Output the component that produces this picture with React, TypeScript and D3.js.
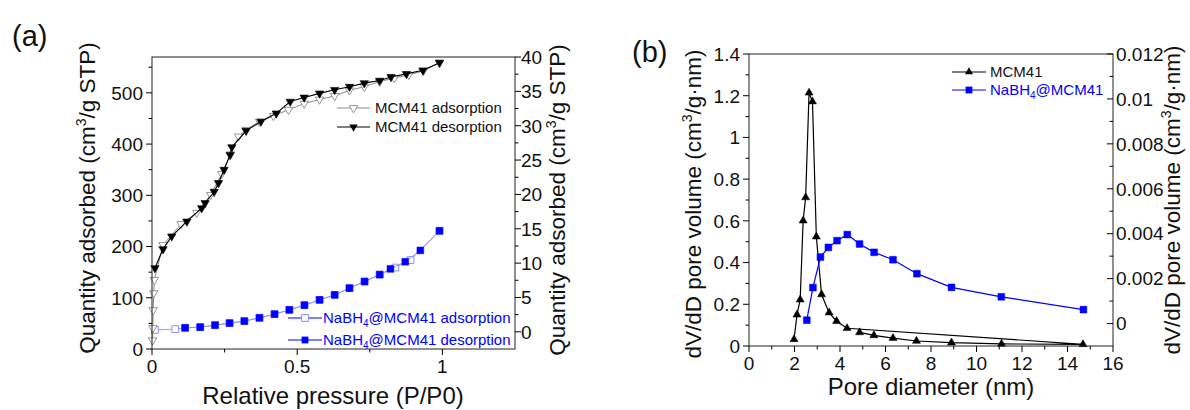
import React from "react";
import * as d3 from "d3";

// ---- (a) N2 sorption isotherms ----
// MCM41, left axis (cm3/g STP)
const mcmAdsP = [0.002, 0.003, 0.004, 0.006, 0.008, 0.038, 0.1, 0.154, 0.202, 0.24, 0.27, 0.298, 0.324, 0.37, 0.418, 0.47, 0.524, 0.577, 0.629, 0.68, 0.731, 0.784, 0.834, 0.884, 0.935, 0.99];
const mcmAdsQ = [17, 41, 76, 109, 135, 203, 244, 266, 301, 342, 380, 415, 428, 444, 455, 467, 479, 487, 494, 505, 512, 522, 529, 535, 543, 559];
const mcmDesP = [0.01, 0.038, 0.068, 0.12, 0.171, 0.183, 0.214, 0.229, 0.248, 0.269, 0.275, 0.324, 0.375, 0.428, 0.476, 0.524, 0.577, 0.629, 0.68, 0.731, 0.784, 0.823, 0.876, 0.933, 0.99];
const mcmDesQ = [158, 195, 220, 249, 275, 285, 307, 324, 350, 379, 394, 426, 444, 460, 483, 491, 499, 506, 512, 519, 524, 531, 537, 544, 559];

// NaBH4@MCM41, right axis (cm3/g STP)
const nbAdsP = [0.01, 0.08, 0.114, 0.166, 0.217, 0.267, 0.318, 0.37, 0.422, 0.473, 0.525, 0.577, 0.629, 0.68, 0.732, 0.784, 0.838, 0.89, 0.99];
const nbAdsQ = [0.29, 0.39, 0.58, 0.68, 0.97, 1.27, 1.56, 2.04, 2.57, 3.2, 3.88, 4.65, 5.38, 6.36, 7.32, 8.33, 9.35, 10.45, 14.7];
const nbDesP = [0.114, 0.166, 0.217, 0.267, 0.318, 0.37, 0.422, 0.473, 0.525, 0.577, 0.629, 0.68, 0.732, 0.784, 0.821, 0.872, 0.924, 0.99];
const nbDesQ = [0.58, 0.68, 0.97, 1.27, 1.56, 2.04, 2.57, 3.2, 3.88, 4.65, 5.38, 6.36, 7.32, 8.33, 9.16, 10.2, 11.85, 14.7];

// ---- (b) BJH pore size distribution ----
// MCM41, left axis; points in export order (the 4.31 nm point is followed by the largest pore)
const mcmPoreD = [1.98, 2.11, 2.25, 2.38, 2.49, 2.64, 2.79, 2.96, 3.19, 3.52, 3.85, 4.31, 14.68, 11.1, 8.9, 7.36, 6.33, 5.49, 4.86];
const mcmPoreV = [0.032, 0.15, 0.222, 0.601, 0.712, 1.214, 1.172, 0.524, 0.247, 0.16, 0.119, 0.085, 0.008, 0.01, 0.016, 0.024, 0.038, 0.051, 0.065];
// NaBH4@MCM41, right axis
const nbPoreD = [2.54, 2.81, 3.14, 3.49, 3.87, 4.32, 4.86, 5.5, 6.33, 7.38, 8.9, 11.09, 14.7];
const nbPoreV = [0.00015, 0.0016, 0.00296, 0.00339, 0.00369, 0.00396, 0.00354, 0.00317, 0.00284, 0.00222, 0.00161, 0.00119, 0.00062];

// ---- tick values ----
const aXMajor = [0, 0.5, 1];
const aXMinor = [0.25, 0.75];
const aYMajor = [0, 100, 200, 300, 400, 500];
const aYMinor = [50, 150, 250, 350, 450, 550];
const aY2Major = [0, 5, 10, 15, 20, 25, 30, 35, 40];
const aY2Minor = [2.5, 7.5, 12.5, 17.5, 22.5, 27.5, 32.5, 37.5];
const bXMajor = [0, 2, 4, 6, 8, 10, 12, 14, 16];
const bXMinor = [1, 3, 5, 7, 9, 11, 13, 15];
const bYMajor = [0, 0.2, 0.4, 0.6, 0.8, 1, 1.2, 1.4];
const bYMinor = [0.1, 0.3, 0.5, 0.7, 0.9, 1.1, 1.3];
const bY2Major = [0, 0.002, 0.004, 0.006, 0.008, 0.01, 0.012];
const bY2Minor = [0.001, 0.003, 0.005, 0.007, 0.009, 0.011];

const FONT = "'Liberation Sans', Arial, Helvetica, sans-serif";
const TICK_FS = 19;
const MAJ = 6;
const MIN = 3.5;

const fmt = (v: number) => String(+v.toFixed(4));

const zip = (xs: number[], ys: number[]) => xs.map((x, i) => [x, ys[i]] as [number, number]);

const triPath = d3.symbol().type(d3.symbolTriangle).size(30)() as string;
const triPathB = d3.symbol().type(d3.symbolTriangle).size(28)() as string;
const sqPath = d3.symbol().type(d3.symbolSquare).size(46)() as string;
const sqPathB = d3.symbol().type(d3.symbolSquare).size(46)() as string;

type Scale = d3.ScaleLinear<number, number>;

function BottomAxis({ x, y0, major, minor }: { x: Scale; y0: number; major: number[]; minor: number[] }) {
  return (
    <g>
      {major.map((v) => (
        <g key={"M" + v}>
          <line x1={x(v)} x2={x(v)} y1={y0} y2={y0 + MAJ} stroke="#000" strokeWidth={1} />
          <text x={x(v)} y={y0 + 24} textAnchor="middle" fontSize={TICK_FS} fontFamily={FONT} fill="#111">
            {fmt(v)}
          </text>
        </g>
      ))}
      {minor.map((v) => (
        <line key={"m" + v} x1={x(v)} x2={x(v)} y1={y0} y2={y0 + MIN} stroke="#000" strokeWidth={1} />
      ))}
    </g>
  );
}

function SideAxis({
  y, x0, major, minor, dir, labelSide, labelX,
}: { y: Scale; x0: number; major: number[]; minor: number[]; dir: number; labelSide: "left" | "right"; labelX: number }) {
  return (
    <g>
      {major.map((v) => (
        <g key={"M" + v}>
          <line x1={x0} x2={x0 + dir * MAJ} y1={y(v)} y2={y(v)} stroke="#000" strokeWidth={1} />
          <text
            x={labelX}
            y={y(v) + 6.8}
            textAnchor={labelSide === "left" ? "end" : "start"}
            fontSize={TICK_FS}
            fontFamily={FONT}
            fill="#111"
          >
            {fmt(v)}
          </text>
        </g>
      ))}
      {minor.map((v) => (
        <line key={"m" + v} x1={x0} x2={x0 + dir * MIN} y1={y(v)} y2={y(v)} stroke="#000" strokeWidth={1} />
      ))}
    </g>
  );
}

function Markers({ pts, path, fill, stroke, rotate = 0, sw = 1 }: {
  pts: [number, number][]; path: string; fill: string; stroke: string; rotate?: number; sw?: number;
}) {
  return (
    <g>
      {pts.map(([px, py], i) => (
        <path key={i} d={path} transform={`translate(${px},${py}) rotate(${rotate})`} fill={fill} stroke={stroke} strokeWidth={sw} />
      ))}
    </g>
  );
}

function QuantityLabel({ x, y }: { x: number; y: number }) {
  return (
    <text transform={`translate(${x},${y}) rotate(-90)`} textAnchor="middle" fontSize={22.5} fontFamily={FONT} fill="#111">
      Quantity adsorbed (cm<tspan fontSize={14} dy={-9}>3</tspan><tspan dy={9}>/g STP)</tspan>
    </text>
  );
}

function PoreLabel({ x, y }: { x: number; y: number }) {
  return (
    <text transform={`translate(${x},${y}) rotate(-90)`} textAnchor="middle" fontSize={22.5} fontFamily={FONT} fill="#111">
      dV/dD pore volume (cm<tspan fontSize={14} dy={-9}>3</tspan><tspan dy={9}>/g·nm)</tspan>
    </text>
  );
}

export default function App() {
  // panel (a) frame
  const aL = 152, aR = 515, aT = 57, aB = 349;
  const xA = d3.scaleLinear().domain([0, 1.25]).range([aL, aR]);
  const yA = d3.scaleLinear().domain([0, 570]).range([aB, aT]);
  const yA2 = d3.scaleLinear().domain([-2.5, 40]).range([aB, aT]);

  // panel (b) frame
  const bL = 749, bR = 1113, bT = 54, bB = 346;
  const xB = d3.scaleLinear().domain([0, 16]).range([bL, bR]);
  const yB = d3.scaleLinear().domain([0, 1.4]).range([bB, bT]);
  const yB2 = d3.scaleLinear().domain([-0.001, 0.012]).range([bB, bT]);

  const lineA = d3.line<[number, number]>().x((d) => xA(d[0])).y((d) => yA(d[1]));
  const lineA2 = d3.line<[number, number]>().x((d) => xA(d[0])).y((d) => yA2(d[1]));
  const lineB = d3.line<[number, number]>().x((d) => xB(d[0])).y((d) => yB(d[1]));
  const lineB2 = d3.line<[number, number]>().x((d) => xB(d[0])).y((d) => yB2(d[1]));

  const mcmAds = zip(mcmAdsP, mcmAdsQ);
  const mcmDes = zip(mcmDesP, mcmDesQ);
  const nbAds = zip(nbAdsP, nbAdsQ);
  const nbDes = zip(nbDesP, nbDesQ);
  const mcmPore = zip(mcmPoreD, mcmPoreV);
  const nbPore = zip(nbPoreD, nbPoreV);

  const px = (s: Scale, sy: Scale, pts: [number, number][]) => pts.map(([a, b]) => [s(a), sy(b)] as [number, number]);

  const blue = "#0000ff";
  const lightBlue = "#8c8cff";

  return (
    <div style={{ position: "absolute", left: 0, top: 0 }}>
      <svg width={1190} height={410} viewBox="0 0 1190 410" style={{ display: "block", background: "#fff" }}>
        <rect width={1190} height={410} fill="#fff" />

        {/* ================= (a) ================= */}
        <text x={12} y={46} fontSize={29} fontFamily={FONT} fill="#111">(a)</text>

        {/* NaBH4@MCM41 isotherms (right axis) */}
        <path d={lineA2(nbAds) as string} fill="none" stroke={lightBlue} strokeWidth={0.9} />
        <Markers pts={px(xA, yA2, nbAds)} path={sqPath} fill="#fff" stroke={lightBlue} sw={1} />
        <path d={lineA2(nbDes) as string} fill="none" stroke={lightBlue} strokeWidth={0.9} />
        <Markers pts={px(xA, yA2, nbDes)} path={sqPath} fill={blue} stroke={blue} sw={0.5} />

        {/* MCM41 isotherms (left axis) */}
        <path d={lineA(mcmAds) as string} fill="none" stroke="#8a8a8a" strokeWidth={1} />
        <Markers pts={px(xA, yA, mcmAds)} path={triPath} fill="#fff" stroke="#8a8a8a" rotate={180} sw={0.9} />
        <path d={lineA(mcmDes) as string} fill="none" stroke="#000" strokeWidth={1.1} />
        <Markers pts={px(xA, yA, mcmDes)} path={triPath} fill="#000" stroke="#000" rotate={180} sw={0.6} />

        {/* frame */}
        <rect x={aL} y={aT} width={aR - aL} height={aB - aT} fill="none" stroke="#222" strokeWidth={1} />
        <BottomAxis x={xA} y0={aB} major={aXMajor} minor={aXMinor} />
        <SideAxis y={yA} x0={aL} major={aYMajor} minor={aYMinor} dir={-1} labelSide="left" labelX={143} />
        <SideAxis y={yA2} x0={aR} major={aY2Major} minor={aY2Minor} dir={1} labelSide="right" labelX={521} />

        <QuantityLabel x={95} y={198} />
        <QuantityLabel x={565} y={200} />
        <text x={333} y={404} textAnchor="middle" fontSize={24} fontFamily={FONT} fill="#111">
          Relative pressure (P/P0)
        </text>

        {/* legend: MCM41 */}
        <g fontFamily={FONT} fontSize={15} fill="#111">
          <line x1={337} x2={370} y1={108} y2={108} stroke="#8a8a8a" strokeWidth={1} />
          <path d={triPath} transform="translate(353.5,108) rotate(180)" fill="#fff" stroke="#8a8a8a" strokeWidth={0.9} />
          <text x={375} y={113}>MCM41 adsorption</text>
          <line x1={337} x2={370} y1={127} y2={127} stroke="#000" strokeWidth={1.1} />
          <path d={triPath} transform="translate(353.5,127) rotate(180)" fill="#000" />
          <text x={375} y={132}>MCM41 desorption</text>
        </g>

        {/* legend: NaBH4@MCM41 */}
        <g fontFamily={FONT} fontSize={15} fill={blue}>
          <line x1={288} x2={322} y1={318} y2={318} stroke={blue} strokeWidth={1} />
          <path d={sqPath} transform="translate(305,318)" fill="#fff" stroke={lightBlue} strokeWidth={1} />
          <text x={323} y={323}>
            NaBH<tspan fontSize={10} dy={4}>4</tspan><tspan dy={-4}>@MCM41 adsorption</tspan>
          </text>
          <line x1={288} x2={322} y1={340} y2={340} stroke={blue} strokeWidth={1} />
          <path d={sqPath} transform="translate(305,340)" fill={blue} />
          <text x={323} y={345}>
            NaBH<tspan fontSize={10} dy={4}>4</tspan><tspan dy={-4}>@MCM41 desorption</tspan>
          </text>
        </g>

        {/* ================= (b) ================= */}
        <text x={632} y={62} fontSize={29} fontFamily={FONT} fill="#111">(b)</text>

        <path d={lineB(mcmPore) as string} fill="none" stroke="#000" strokeWidth={1.2} />
        <Markers pts={px(xB, yB, mcmPore)} path={triPathB} fill="#000" stroke="#000" sw={0.5} />
        <path d={lineB2(nbPore) as string} fill="none" stroke={blue} strokeWidth={1.2} />
        <Markers pts={px(xB, yB2, nbPore)} path={sqPathB} fill={blue} stroke={blue} sw={0.5} />

        <rect x={bL} y={bT} width={bR - bL} height={bB - bT} fill="none" stroke="#222" strokeWidth={1} />
        <BottomAxis x={xB} y0={bB} major={bXMajor} minor={bXMinor} />
        <SideAxis y={yB} x0={bL} major={bYMajor} minor={bYMinor} dir={-1} labelSide="left" labelX={740} />
        <SideAxis y={yB2} x0={bR} major={bY2Major} minor={bY2Minor} dir={-1} labelSide="right" labelX={1116} />

        <PoreLabel x={701} y={204} />
        <PoreLabel x={1180} y={200} />
        <text x={931} y={395} textAnchor="middle" fontSize={24} fontFamily={FONT} fill="#111">
          Pore diameter (nm)
        </text>

        {/* legend */}
        <g fontFamily={FONT} fontSize={15}>
          <line x1={952} x2={986} y1={72} y2={72} stroke="#000" strokeWidth={1.2} />
          <path d={triPathB} transform="translate(969,72)" fill="#000" />
          <text x={990} y={77} fill="#111">MCM41</text>
          <line x1={952} x2={986} y1={90} y2={90} stroke={blue} strokeWidth={1.2} />
          <path d={sqPathB} transform="translate(969,90)" fill={blue} />
          <text x={990} y={95} fill={blue}>
            NaBH<tspan fontSize={10} dy={4}>4</tspan><tspan dy={-4}>@MCM41</tspan>
          </text>
        </g>
      </svg>
    </div>
  );
}
